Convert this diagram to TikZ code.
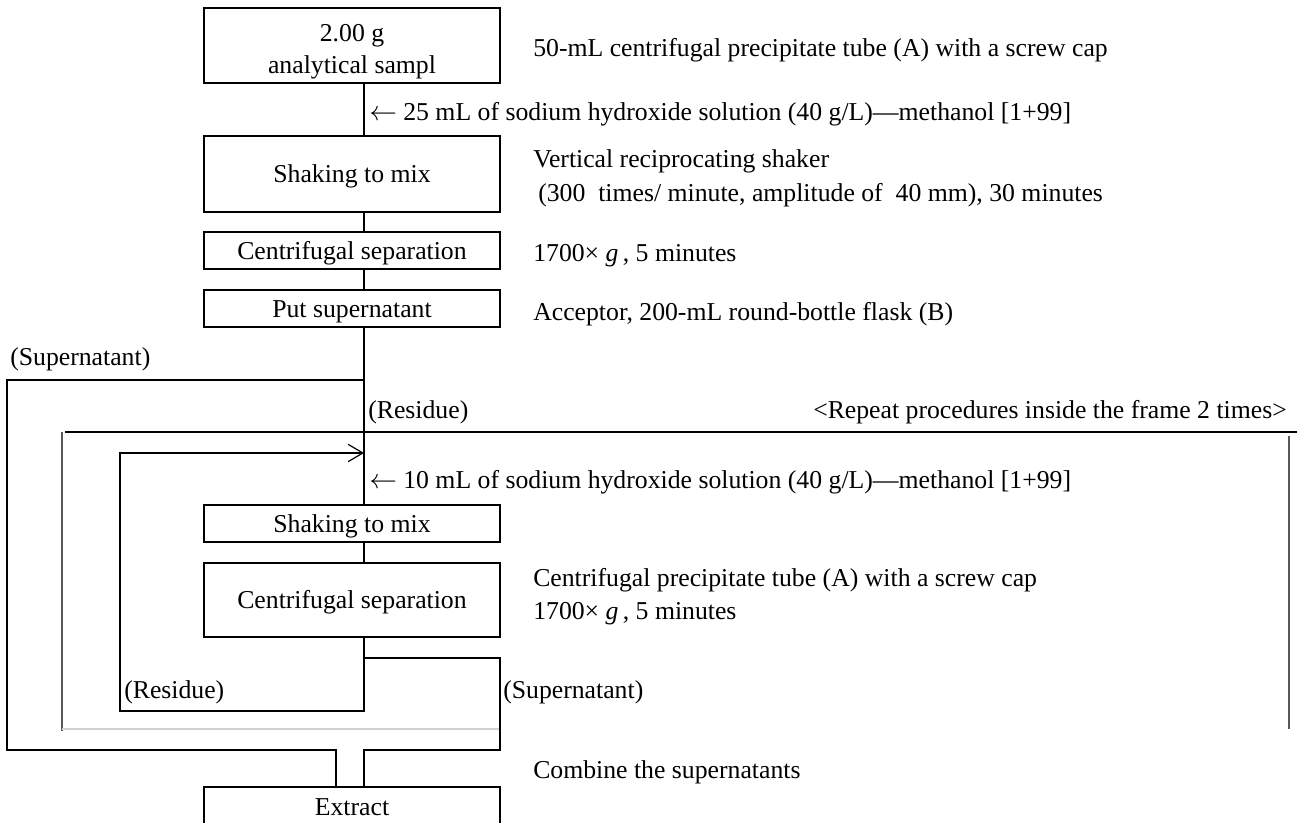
\documentclass[tikz,border=0pt]{standalone}
\usepackage{fontspec}
\setmainfont{Liberation Serif}
\usetikzlibrary{arrows.meta}
\tikzset{
  box/.style={draw, line width=1.3pt, minimum width=222pt, inner sep=0pt, align=center, text height=14.8pt, text depth=2pt, font=\fontsize{19.3}{24}\selectfont},
  lbl/.style={inner sep=0pt, anchor=west, text height=12.8pt, text depth=0pt, font=\fontsize{19.3}{24}\selectfont},
  ctext/.style={lbl, anchor=center, text height=14.8pt, text depth=2pt},
  rlbl/.style={lbl, anchor=east},
  conn/.style={line width=1.3pt},
  framedark/.style={line width=0.8pt, black},
  framegray/.style={line width=0.8pt, black!65},
  framelight/.style={line width=0.8pt, black!18},
}
\newcommand{\larr}{$\leftarrow$}
\begin{document}
\begin{tikzpicture}[x=0.75pt, y=-0.75pt]
\useasboundingbox (0,0) rectangle (1297,823);
% boxes
\node[box, minimum height=56.25pt] (b1) at (352,45.5) {};
\node[ctext] (b1a) at (352,33) {2.00 g};
\node[ctext] (b1b) at (352,65) {analytical sampl};
\node[box, minimum height=57pt] (b2) at (352,174) {Shaking to mix};
\node[box, minimum height=27.75pt] (b3) at (352,250.5) {Centrifugal separation};
\node[box, minimum height=27.75pt] (b4) at (352,308.5) {Put supernatant};
\node[box, minimum height=27.75pt] (b5) at (352,523.5) {Shaking to mix};
\node[box, minimum height=55.5pt] (b6) at (352,600) {Centrifugal separation};
\node[box, minimum height=30pt] (ex) at (352,807) {Extract};
% coordinates
\coordinate (mx) at (364,0);
\coordinate (lx) at (336,0);
\coordinate (s1) at (364,380);
\coordinate (s1l) at (7,380);
\coordinate (obl) at (7,750);
\coordinate (obr) at (336,750);
\coordinate (r1) at (364,711);
\coordinate (r1l) at (120,711);
\coordinate (rtop) at (120,453);
\coordinate (rarr) at (364,453);
\coordinate (sp) at (364,658);
\coordinate (spr) at (500,658);
\coordinate (spb) at (500,750);
\coordinate (spl) at (364,750);
% frame
\draw[framedark] (65,432) -- (1297,432);
\draw[framegray] (62,432) -- (62,731);
\draw[framegray] (1289,436) -- (1289,729);
\draw[framelight] (62,729) -- (500,729);
% main connectors
\draw[conn] (b1.south -| mx) -- (b2.north -| mx);
\draw[conn] (b2.south -| mx) -- (b3.north -| mx);
\draw[conn] (b3.south -| mx) -- (b4.north -| mx);
\draw[conn] (b4.south -| mx) -- (b5.north -| mx);
\draw[conn] (b5.south -| mx) -- (b6.north -| mx);
% outer supernatant loop
\draw[conn] (s1) -- (s1l) -- (obl) -- (obr) -- (ex.north -| lx);
% inner residue loop
\draw[conn, -{Straight Barb[length=11pt, width=13pt, line width=0.9pt]}] (b6.south -| mx) -- (r1) -- (r1l) -- (rtop) -- (rarr);
% inner supernatant
\draw[conn] (sp) -- (spr) -- (spb) -- (spl) -- (ex.north -| mx);
% labels
\node[lbl] (t1) at (533,48) {50-mL centrifugal precipitate tube (A) with a screw cap};
\node[lbl] (t2) at (369,112) {\larr\ 25 mL of sodium hydroxide solution (40 g/L)—methanol [1+99]};
\node[lbl] (t3) at (533,159) {Vertical reciprocating shaker};
\node[lbl] (t4) at (538,193) {(300\ \ times/ minute, amplitude of\ \ 40 mm), 30 minutes};
\node[lbl] (t5) at (533,253) {1700× \textit{g}\,, 5 minutes};
\node[lbl] (t6) at (533,312) {Acceptor, 200-mL round-bottle flask (B)};
\node[lbl] (t7) at (10,357) {(Supernatant)};
\node[lbl] (t8) at (368,410) {(Residue)};
\node[rlbl] (t9) at (1287,410) {<Repeat procedures inside the frame 2 times>};
\node[lbl] (t10) at (369,480) {\larr\ 10 mL of sodium hydroxide solution (40 g/L)—methanol [1+99]};
\node[lbl] (t11) at (533,578) {Centrifugal precipitate tube (A) with a screw cap};
\node[lbl] (t12) at (533,611) {1700× \textit{g}\,, 5 minutes};
\node[lbl] (t13) at (124,690) {(Residue)};
\node[lbl] (t14) at (503,690) {(Supernatant)};
\node[lbl] (t15) at (533,770) {Combine the supernatants};
\end{tikzpicture}
\end{document}
